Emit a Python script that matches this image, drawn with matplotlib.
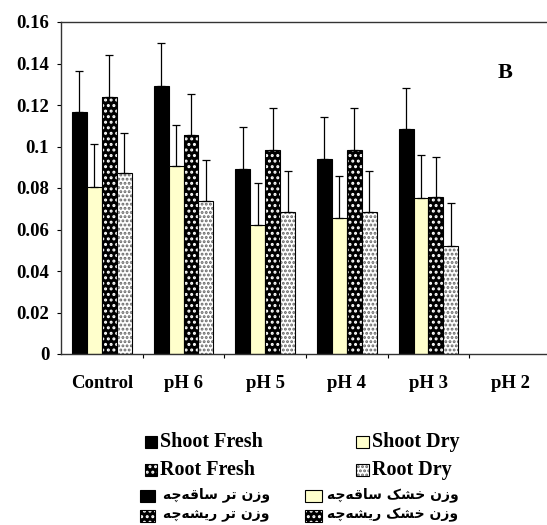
import numpy as np
import matplotlib
matplotlib.use("Agg")
import matplotlib.pyplot as plt
from matplotlib.patches import Rectangle
from matplotlib.ticker import FixedLocator, FuncFormatter

# Data (pH 2: no bars)
groups = ["Control", "pH 6", "pH 5", "pH 4", "pH 3", "pH 2"]
shoot_fresh = [0.1165, 0.129, 0.089, 0.094, 0.1086, np.nan]
shoot_fresh_err = [0.0197, 0.0209, 0.0202, 0.020, 0.0196, np.nan]
shoot_dry = [0.0806, 0.0908, 0.0622, 0.0654, 0.075, np.nan]
shoot_dry_err = [0.0206, 0.0196, 0.0204, 0.0204, 0.0207, np.nan]
root_fresh = [0.124, 0.1055, 0.0982, 0.0982, 0.0755, np.nan]
root_fresh_err = [0.0202, 0.0196, 0.0202, 0.0202, 0.0196, np.nan]
root_dry = [0.0871, 0.0737, 0.0684, 0.0684, 0.052, np.nan]
root_dry_err = [0.0195, 0.0196, 0.0199, 0.0199, 0.0209, np.nan]

en_labels = ["Shoot Fresh", "Shoot Dry", "Root Fresh", "Root Dry"]
fa_labels = ["وزن تر ساقه\u200cچه", "وزن خشک ساقه\u200cچه",
             "وزن تر ریشه\u200cچه", "وزن خشک ریشه\u200cچه"]

YELLOW = "#ffffcc"
W, H = 547, 525

# presentation forms: (isolated, final, initial, medial)
FORMS = {
    "و": ("\ufeed", "\ufeee"), "ز": ("\ufeaf", "\ufeb0"),
    "ر": ("\ufead", "\ufeae"), "ا": ("\ufe8d", "\ufe8e"),
    "ن": ("\ufee5", "\ufee6", "\ufee7", "\ufee8"),
    "ت": ("\ufe95", "\ufe96", "\ufe97", "\ufe98"),
    "س": ("\ufeb1", "\ufeb2", "\ufeb3", "\ufeb4"),
    "ق": ("\ufed5", "\ufed6", "\ufed7", "\ufed8"),
    "ه": ("\ufee9", "\ufeea", "\ufeeb", "\ufeec"),
    "چ": ("\ufb7a", "\ufb7b", "\ufb7c", "\ufb7d"),
    "ش": ("\ufeb5", "\ufeb6", "\ufeb7", "\ufeb8"),
    "خ": ("\ufea5", "\ufea6", "\ufea7", "\ufea8"),
    "ک": ("\ufb8e", "\ufb8f", "\ufb90", "\ufb91"),
    "ی": ("\ufbfc", "\ufbfd", "\ufbfe", "\ufbff"),
}


def shape(text):
    """Join Persian letters and put them in visual (left to right) order"""
    out = []
    for i, c in enumerate(text):
        if c not in FORMS:
            if c != "\u200c":
                out.append(c)
            continue
        prev = text[i - 1] if i > 0 else None
        nxt = text[i + 1] if i + 1 < len(text) else None
        join_prev = prev in FORMS and len(FORMS[prev]) == 4
        join_next = len(FORMS[c]) == 4 and nxt in FORMS
        f = FORMS[c]
        if join_prev and join_next:
            out.append(f[3])
        elif join_prev:
            out.append(f[1])
        elif join_next:
            out.append(f[2])
        else:
            out.append(f[0])
    return "".join(reversed(out))


plt.rcParams["hatch.linewidth"] = 1.4
plt.rcParams["font.family"] = ["Liberation Serif", "DejaVu Sans"]
plt.rcParams["font.weight"] = "bold"
plt.rcParams["font.size"] = 13.5

fig = plt.figure(figsize=(W / 100, H / 100), dpi=100)
ax = fig.add_axes([61 / W, 1 - 354 / H, 490 / W, 332 / H])

x = np.arange(len(groups)) + 0.5
bw = 0.183
offsets = np.array([-1.5, -0.5, 0.5, 1.5]) * bw

ax.bar(x + offsets[0], shoot_fresh, bw, color="black", edgecolor="black", lw=0.8)
ax.bar(x + offsets[1], shoot_dry, bw, color=YELLOW, edgecolor="black", lw=0.8)
ax.bar(x + offsets[2], root_fresh, bw, color="black", edgecolor="white",
       hatch="...", lw=0)
ax.bar(x + offsets[2], root_fresh, bw, fill=False, edgecolor="black", lw=0.8)
ax.bar(x + offsets[3], root_dry, bw, color="white", edgecolor="#666666",
       hatch="....", lw=0)
ax.bar(x + offsets[3], root_dry, bw, fill=False, edgecolor="black", lw=0.8)

for off, vals, err in zip(offsets,
                          [shoot_fresh, shoot_dry, root_fresh, root_dry],
                          [shoot_fresh_err, shoot_dry_err, root_fresh_err, root_dry_err]):
    ax.errorbar(x + off, vals, yerr=[np.zeros(len(err)), err], fmt="none",
                ecolor="black", elinewidth=0.9, capsize=2.6, capthick=0.9)

ax.set_xlim(0, len(groups))
ax.set_ylim(0, 0.16)
ax.yaxis.set_major_locator(FixedLocator(np.arange(0, 0.161, 0.02)))
ax.yaxis.set_major_formatter(FuncFormatter(lambda v, p: "%g" % round(v, 2)))
ax.tick_params(axis="y", direction="out", length=3, width=0.8, pad=5.5)

ax.xaxis.set_major_locator(FixedLocator(np.arange(1, len(groups))))
ax.xaxis.set_major_formatter(FuncFormatter(lambda v, p: ""))
ax.set_xticks(x, minor=True)
ax.set_xticklabels(groups, minor=True)
ax.tick_params(axis="x", which="major", direction="out", length=3, width=0.8)
ax.tick_params(axis="x", which="minor", length=0, pad=15, labelsize=13.5)

for s in ax.spines.values():
    s.set_linewidth(1.0)
    s.set_color("#333333")

ax.text(505 / W, 1 - 73 / H, "B", transform=fig.transFigure, ha="center",
        va="center", fontsize=16)


# Legend drawn by hand below the axes
def box(x0, y0, x1, y1, **style):
    fig.add_artist(Rectangle((x0 / W, 1 - y1 / H), (x1 - x0) / W, (y1 - y0) / H,
                             transform=fig.transFigure, **style))


def label(x0, yc, text, **font):
    fig.text(x0 / W, 1 - yc / H, text, ha="left", va="center", **font)


def hatched_box(x0, y0, x1, y1, face, dots, hatch):
    box(x0, y0, x1, y1, facecolor=face, edgecolor=dots, hatch=hatch, lw=0)
    box(x0, y0, x1, y1, fill=False, edgecolor="black", lw=0.8)


en_font = dict(fontsize=14.5)
box(145, 436, 157, 448, facecolor="black", edgecolor="black", lw=0.8)
label(160, 442, en_labels[0], **en_font)
box(356, 436, 369, 448, facecolor=YELLOW, edgecolor="black", lw=0.8)
label(372, 442, en_labels[1], **en_font)
hatched_box(145, 464, 157, 476, "black", "white", "...")
label(160, 470, en_labels[2], **en_font)
hatched_box(356, 464, 369, 476, "white", "#666666", "....")
label(372, 470, en_labels[3], **en_font)

fa_font = dict(fontsize=10, family=["DejaVu Sans"], weight="bold")
box(140, 490, 155, 502, facecolor="black", edgecolor="black", lw=0.8)
label(163, 495, shape(fa_labels[0]), **fa_font)
box(305, 490, 322, 502, facecolor=YELLOW, edgecolor="black", lw=0.8)
label(327, 495, shape(fa_labels[1]), **fa_font)
hatched_box(140, 510, 155, 522, "black", "white", "...")
label(163, 515, shape(fa_labels[2]), **fa_font)
hatched_box(305, 510, 322, 522, "black", "white", "...")
label(327, 515, shape(fa_labels[3]), **fa_font)

fig.savefig("out.png", dpi=100)
